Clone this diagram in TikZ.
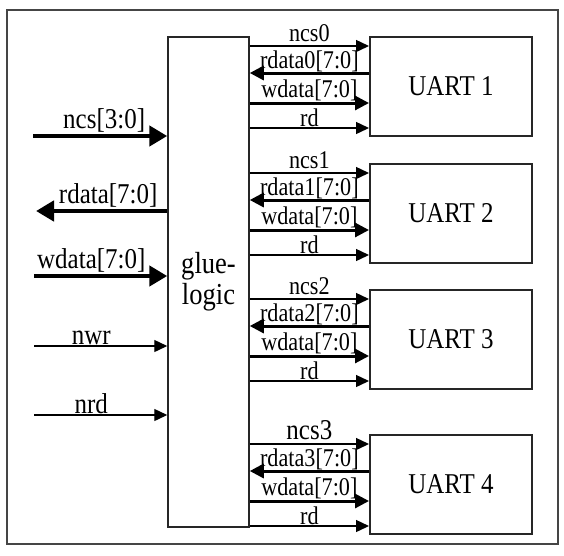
\documentclass[tikz,border=0pt]{standalone}
\usepackage{fontspec}
\setmainfont[FakeStretch=0.87]{Liberation Serif}
\usetikzlibrary{arrows.meta,positioning}
\definecolor{framegray}{rgb}{.27,.27,.27}
\def\Glue{glue-\\logic}

\begin{document}
\begin{tikzpicture}[% styles for all boxes and signal lines
			x=1pt,y=-1pt,
			every node/.style={
				align=center,		% so that "\\" breaks the line
				font=\fontsize{28.7}{32}\selectfont
			},
			block/.style={rectangle,draw=black!85,line width=1.5pt,inner sep=0pt},
			uart/.style={block,line width=2pt,minimum width=162pt,minimum height=99pt},
			sig/.style={draw,line width=1.4pt,-{Triangle[length=13pt,width=12pt]}},
			bus/.style={draw,line width=3pt,-{Triangle[length=14pt,width=14pt]}},
			bigbus/.style={draw,line width=4.5pt,-{Triangle[length=18pt,width=20pt]}},
			lab/.style={above,inner xsep=2pt,inner ysep=1pt,font=\fontsize{25.5}{28}\selectfont},
			biglab/.style={lab,font=\fontsize{28.7}{32}\selectfont}
		]
		\useasboundingbox (0,0) rectangle (564,555);
		\draw[framegray,line width=2pt] (7,10) rectangle (558,544);
		\node[block,minimum width=81pt,minimum height=490pt,font=\fontsize{30.5}{31}\selectfont](glue) at (208.5,282) {\Glue};
		\node[uart](u1) at (451,86.5) {UART 1};
		\node[uart](u2)[below=26pt of u1] {UART 2};
		\node[uart](u3)[below=25pt of u2] {UART 3};
		\node[uart](u4)[below=44pt of u3] {UART 4};
		% lines between glue logic and each UART
		\foreach \i/\n/\f in {1/0/25.5,2/1/25.5,3/2/25.5,4/3/28.7}{
			\coordinate (cs\i) at ([yshift=-10pt]u\i.north west);
			\coordinate (rd\i) at ([yshift=-37pt]u\i.north west);
			\coordinate (wd\i) at ([yshift=-67pt]u\i.north west);
			\coordinate (re\i) at ([yshift=-92pt]u\i.north west);
			\draw[sig] (glue.east |- cs\i) -- (cs\i) node[lab,midway,inner ysep=3.5pt,font=\fontsize{\f}{\f}\selectfont] {ncs\n};
			\draw[bus] (rd\i) -- (glue.east |- rd\i) node[lab,midway,inner ysep=0pt] {rdata\n[7:0]};
			\draw[bus] (glue.east |- wd\i) -- (wd\i) node[lab,midway] {wdata[7:0]};
			\draw[sig] (glue.east |- re\i) -- (re\i) node[lab,midway] {rd};
		}
		% host side
		\coordinate (ncsin) at (33,136);
		\coordinate (rdout) at (36,211);
		\coordinate (wdin) at (34,276);
		\coordinate (nwrin) at (34,346);
		\coordinate (nrdin) at (34,415);
		\draw[bigbus] (ncsin) -- (glue.west |- ncsin) node[biglab,pos=.53] {ncs[3:0]};
		\draw[bigbus] (glue.west |- rdout) -- (rdout) node[biglab,pos=.45] {rdata[7:0]};
		\draw[bigbus] (wdin) -- (glue.west |- wdin) node[biglab,pos=.43] {wdata[7:0]};
		\draw[sig] (nwrin) -- (glue.west |- nwrin) node[biglab,pos=.43] {nwr};
		\draw[sig] (nrdin) -- (glue.west |- nrdin) node[biglab,pos=.43] {nrd};
	\end{tikzpicture}
\end{document}
